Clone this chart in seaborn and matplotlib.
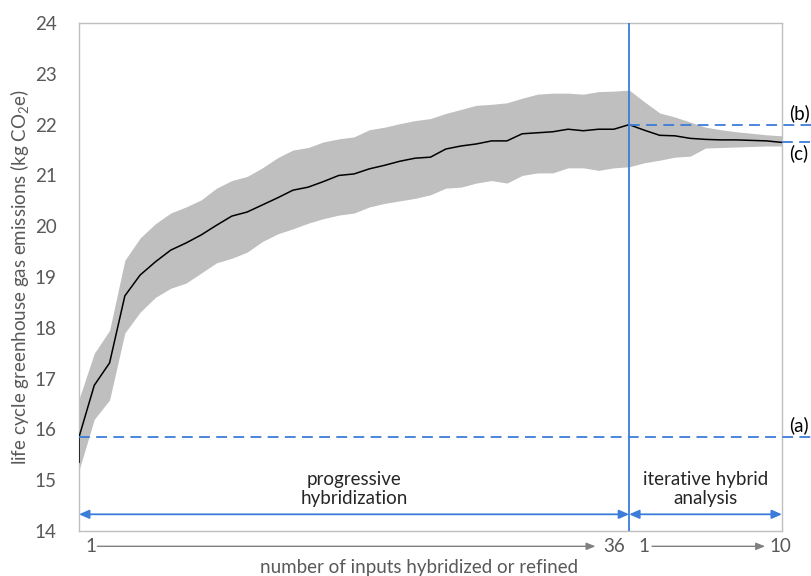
import numpy as np
import pandas as pd
import matplotlib
matplotlib.use("Agg")
import matplotlib.pyplot as plt
import seaborn as sns

# mean life-cycle emissions: progressive hybridization (0..36 inputs) then iterative refinement (1..10)
start_value = 15.35
mean_values = [15.85, 16.87, 17.31, 18.63, 19.04, 19.30, 19.53, 19.67, 19.83, 20.02,
               20.20, 20.28, 20.42, 20.56, 20.71, 20.77, 20.88, 21.00, 21.03, 21.13,
               21.20, 21.28, 21.34, 21.36, 21.52, 21.58, 21.62, 21.68, 21.68, 21.82,
               21.84, 21.86, 21.91, 21.88, 21.91, 21.91, 22.00,
               21.89, 21.79, 21.78, 21.73, 21.71, 21.70, 21.70, 21.69, 21.68, 21.65]
upper_values = [16.60, 17.50, 17.95, 19.33, 19.77, 20.05, 20.26, 20.38, 20.52, 20.75,
                20.90, 20.98, 21.15, 21.35, 21.50, 21.55, 21.66, 21.72, 21.76, 21.90,
                21.95, 22.02, 22.08, 22.12, 22.22, 22.30, 22.38, 22.40, 22.43, 22.52,
                22.60, 22.62, 22.62, 22.60, 22.65, 22.66, 22.68,
                22.45, 22.23, 22.15, 22.05, 21.95, 21.90, 21.86, 21.83, 21.80, 21.78]
lower_values = [15.20, 16.20, 16.58, 17.90, 18.31, 18.60, 18.78, 18.88, 19.08, 19.28,
                19.37, 19.49, 19.70, 19.85, 19.95, 20.06, 20.15, 20.22, 20.26, 20.38,
                20.45, 20.50, 20.55, 20.62, 20.75, 20.77, 20.85, 20.90, 20.85, 21.00,
                21.05, 21.05, 21.15, 21.15, 21.10, 21.15, 21.17,
                21.25, 21.30, 21.36, 21.38, 21.54, 21.55, 21.56, 21.57, 21.58, 21.58]

n_progressive = 36
n_iterative = 10
ref_lines = {"(a)": 15.85, "(b)": 22.00, "(c)": 21.66}
y_ticks = list(range(14, 25))

steps = np.arange(len(mean_values))
df = pd.DataFrame({"step": np.concatenate([[0], steps]),
                   "emissions": [start_value] + mean_values})

blue = "#3B7DD8"
grey_txt = "#595959"

sns.set_theme(style="white")
plt.rcParams["font.family"] = ["Lato", "DejaVu Sans"]
plt.rcParams["mathtext.default"] = "regular"

fig = plt.figure(figsize=(8.12, 5.76), dpi=100)
ax = fig.add_axes([0.0973, 0.078, 0.8657, 0.882])

ax.fill_between(steps, lower_values, upper_values, color="#BFBFBF", lw=0, zorder=1)
sns.lineplot(data=df, x="step", y="emissions", color="black", lw=1.1, ax=ax,
             sort=False, estimator=None, zorder=3)

ax.set_xlim(0, n_progressive + n_iterative)
ax.set_ylim(14, 24)
ax.set_yticks(y_ticks)
ax.set_yticklabels([str(t) for t in y_ticks], fontsize=13.5, color=grey_txt)
ax.tick_params(axis="y", length=0, pad=16)
ax.set_xticks([])
ax.set_xlabel("")
ax.set_ylabel("life cycle greenhouse gas emissions (kg CO$_2$e)", fontsize=13.5,
              color=grey_txt, labelpad=3)
for s in ax.spines.values():
    s.set_color("#BFBFBF")
    s.set_linewidth(1.0)

# divider between the two phases
ax.axvline(n_progressive, color=blue, lw=1.3, zorder=4)

# reference lines (a), (b), (c)
xmax = n_progressive + n_iterative
ext = xmax + 2.0
dash = dict(color=blue, lw=1.3, dashes=(6, 3.5), clip_on=False, zorder=4)
ax.plot([0, ext], [ref_lines["(a)"]] * 2, **dash)
ax.plot([n_progressive, ext], [ref_lines["(b)"]] * 2, **dash)
ax.plot([xmax, ext], [ref_lines["(c)"]] * 2, **dash)
lab = dict(fontsize=13.5, color="black", clip_on=False, ha="left")
ax.text(xmax + 0.5, ref_lines["(a)"] + 0.05, "(a)", va="bottom", **lab)
ax.text(xmax + 0.5, ref_lines["(b)"] + 0.05, "(b)", va="bottom", **lab)
ax.text(xmax + 0.5, ref_lines["(c)"] - 0.05, "(c)", va="top", **lab)

# phase spans
arr = dict(arrowstyle="<|-|>,head_length=0.5,head_width=0.22", color=blue, lw=1.3,
           shrinkA=0, shrinkB=0)
ax.annotate("", xy=(0, 14.33), xytext=(n_progressive, 14.33), arrowprops=arr)
ax.annotate("", xy=(n_progressive, 14.33), xytext=(xmax, 14.33), arrowprops=arr)
ax.text(n_progressive / 2, 14.82, "progressive\nhybridization", ha="center",
        va="center", fontsize=13.5, linespacing=1.15)
ax.text(n_progressive + n_iterative / 2, 14.82, "iterative hybrid\nanalysis",
        ha="center", va="center", fontsize=13.5, linespacing=1.15)

# counters below the axis
grey_arr = dict(arrowstyle="-|>,head_length=0.45,head_width=0.18", color="#808080",
                lw=1.0, shrinkA=0, shrinkB=0)
yc = 13.70
ax.annotate("", xy=(33.8, yc), xytext=(1.2, yc), arrowprops=grey_arr,
            annotation_clip=False)
ax.annotate("", xy=(44.9, yc), xytext=(37.5, yc), arrowprops=grey_arr,
            annotation_clip=False)
cnt = dict(fontsize=13.5, color=grey_txt, ha="center", va="center", clip_on=False)
ax.text(0.75, yc, "1", **cnt)
ax.text(35.0, yc, "36", **cnt)
ax.text(37.0, yc, "1", **cnt)
ax.text(45.9, yc, "10", **cnt)

fig.text(419 / 812, 1 - 567 / 576, "number of inputs hybridized or refined",
         ha="center", va="center", fontsize=13.5, color=grey_txt)

fig.savefig("out.png", dpi=100)
